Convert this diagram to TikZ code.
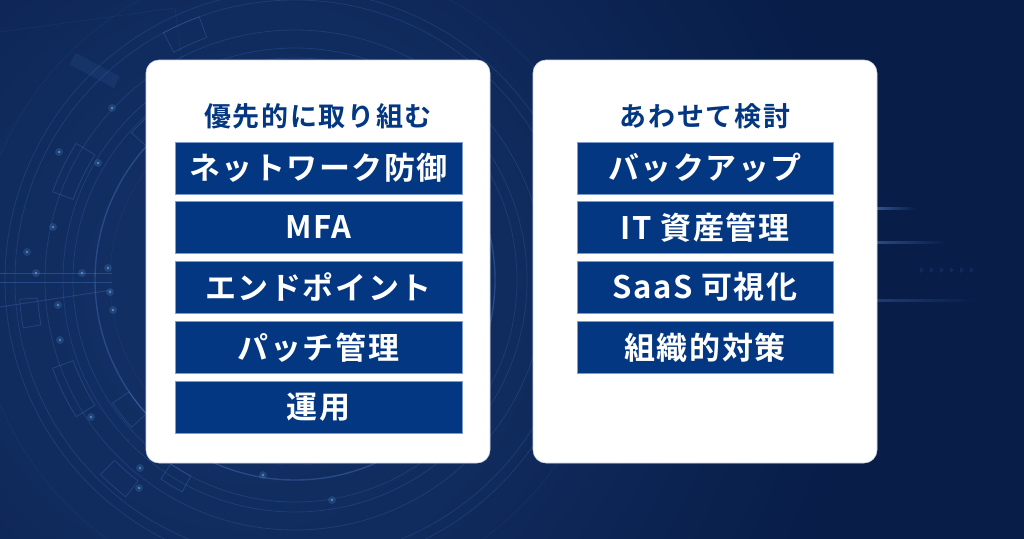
\documentclass[tikz,border=0pt]{standalone}
\usepackage{fontspec}
\newfontfamily\jpbar{Noto Sans CJK JP}[BoldFont={Noto Sans CJK JP Bold}, LetterSpace=5]
\newfontfamily\jphead{Noto Sans CJK JP}[BoldFont={Noto Sans CJK JP Bold}, LetterSpace=6]
\usetikzlibrary{calc}

\definecolor{bgdark}{RGB}{8,29,72}
\definecolor{bgglow}{RGB}{20,50,104}
\definecolor{barblue}{RGB}{4,55,130}
\definecolor{ringblue}{RGB}{90,140,220}
\definecolor{dotblue}{RGB}{120,190,255}

% soft glow that settles into the base colour well inside its radius
\pgfdeclareradialshading{softglow}{\pgfpoint{0bp}{0bp}}{%
  color(0bp)=(bgglow); color(8bp)=(bgglow!65!bgdark); color(17bp)=(bgdark); color(50bp)=(bgdark)}

\begin{document}
\begin{tikzpicture}[x=1pt,y=-1pt,
  card/.style={fill=white, draw={rgb,255:red,205;green,214;blue,230}, line width=0.6pt,
    rounded corners=13pt, minimum width=344pt, minimum height=403pt, inner sep=0pt},
  bar/.style={fill=barblue, draw={rgb,255:red,125;green,155;blue,205}, line width=0.6pt,
    minimum height=52pt, inner sep=0pt, text=white,
    font=\jpbar\bfseries\fontsize{31}{31}\selectfont},
  lbar/.style={bar, minimum width=287pt},
  rbar/.style={bar, minimum width=256pt},
  heading/.style={text=barblue, inner sep=0pt, font=\jphead\bfseries\fontsize{27}{27}\selectfont},
  ring/.style={draw=ringblue, draw opacity=0.18, line width=0.8pt},
  faintring/.style={draw=ringblue, draw opacity=0.10, line width=0.6pt},
  glowline/.style={draw=ringblue, draw opacity=0.3, line width=1pt},
]
\useasboundingbox (0,0) rectangle (1024,538);

% background with a soft glow on the left
\fill[bgdark] (0,0) rectangle (1024,538);
\begin{scope}
  \clip (0,0) rectangle (1024,538);
  \shade[shading=softglow] (250,290) circle (900);
\end{scope}

% circuit rings behind the left card
\begin{scope}
  \clip (0,0) rectangle (560,538);
  \coordinate (C) at (295,280);
  \foreach \r in {290,280,250,232,222}
    \draw[ring] (C) circle (\r);
  \draw[ring, draw opacity=0.3, line width=1.4pt] (C) circle (200);
  \draw[faintring] (C) circle (185);
  \draw[faintring] (C) circle (320);
  % outlined ring segments
  \foreach \a/\b/\ri/\ro in {200/212/236/258, 148/160/236/258, 128/135/255/275,
                            222/232/200/220, 138/146/200/220, 242/250/258/280,
                            118/124/222/240, 170/176/258/276}
    \draw[ring, draw opacity=0.24]
      ($(C)+(\a:\ri)$) arc[start angle=\a, end angle=\b, radius=\ri]
      -- ($(C)+(\b:\ro)$) arc[start angle=\b, end angle=\a, radius=\ro] -- cycle;
  \fill[ringblue, opacity=0.1, rotate around={-28:(95,70)}] (70,64) rectangle (120,77);
  % data lines running into the rings
  \draw[glowline] (0,273) -- (112,273);
  \draw[glowline] (0,282) -- (112,282);
  \draw[glowline, draw opacity=0.22] (0,307) -- (112,290);
  \draw[faintring] (0,32) -- (175,8);
  \draw[faintring] (175,8) -- (182,60);
\end{scope}

% glowing dots
\foreach \p in {(112,108),(59,152),(53,227),(27,252),(58,305),(113,310),(91,417),
                (139,488),(263,475),(332,500),(98,163),(36,273),(82,273),(108,268),
                (110,292),(140,468),(60,340)}{
  \fill[dotblue, opacity=0.15] \p circle (4);
  \fill[dotblue, opacity=0.55] \p circle (1.4);
}

% light streaks on the right
\shade[left color=ringblue!60!bgdark, right color=bgdark] (868,207) rectangle (916,209);
\shade[left color=ringblue!45!bgdark, right color=bgdark] (868,241) rectangle (948,243);
\shade[left color=ringblue!30!bgdark, right color=bgdark] (868,299.5) rectangle (978,301);
\foreach \x in {920,930,940,950,960,970}
  \fill[ringblue, opacity=0.12] (\x,267) -- (\x+4,270) -- (\x,273) -- cycle;

% cards
\node[card] (lcard) at (318,261.5) {};
\node[card] (rcard) at (705,261.5) {};

% left column
\node[heading] (lhead) at (318,116) {優先的に取り組む};
\node[lbar] (l1) at (318.5,168)   {ネットワーク防御};
\node[lbar] (l2) at (318.5,227.5) {MFA};
\node[lbar] (l3) at (318.5,287)   {エンドポイント};
\node[lbar] (l4) at (318.5,347.5) {パッチ管理};
\node[lbar] (l5) at (318.5,407)   {運用};

% right column
\node[heading] (rhead) at (705,116) {あわせて検討};
\node[rbar] (r1) at (705,168)   {バックアップ};
\node[rbar] (r2) at (705,227.5) {IT 資産管理};
\node[rbar] (r3) at (705,287)   {SaaS 可視化};
\node[rbar] (r4) at (705,347.5) {組織的対策};
\end{tikzpicture}
\end{document}
